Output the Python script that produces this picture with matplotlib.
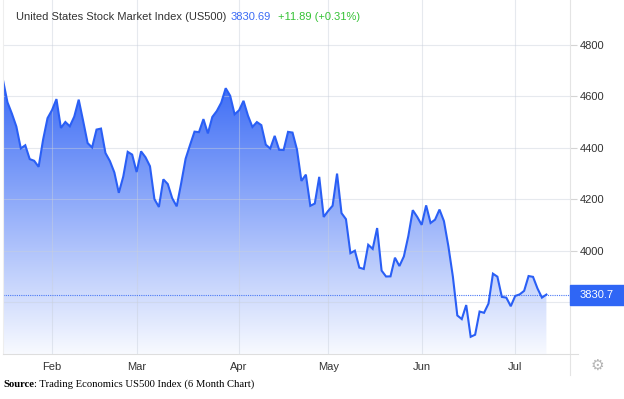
import numpy as np
import pandas as pd
import matplotlib
matplotlib.use("Agg")
import matplotlib.pyplot as plt
from matplotlib.colors import LinearSegmentedColormap
from matplotlib.patches import Rectangle
from matplotlib.lines import Line2D

# US500 daily closes, 6 month window (last value is intraday)
holidays = ["2022-01-17", "2022-02-21", "2022-04-15", "2022-05-30", "2022-06-20", "2022-07-04"]
jan = [4662.85, 4577.11, 4532.76, 4482.73, 4397.94, 4410.13, 4356.45, 4349.93, 4326.51, 4431.85, 4515.55]
feb = [4546.54, 4589.38, 4477.44, 4500.53, 4483.87, 4521.54, 4587.18, 4504.08, 4418.64, 4401.67,
       4471.07, 4475.01, 4380.26, 4348.87, 4304.76, 4225.50, 4288.70, 4384.65, 4373.94]
mar = [4306.26, 4386.54, 4363.49, 4328.87, 4201.09, 4170.70, 4277.88, 4259.52, 4204.31, 4173.11,
       4262.45, 4357.86, 4411.67, 4463.12, 4461.18, 4511.61, 4456.24, 4520.16, 4543.06, 4575.52,
       4631.60, 4602.45, 4530.41]
apr = [4545.86, 4582.64, 4525.12, 4481.15, 4500.21, 4488.28, 4412.53, 4397.45, 4446.59, 4392.59,
       4391.69, 4462.21, 4459.45, 4393.66, 4271.78, 4296.12, 4175.20, 4183.96, 4287.50, 4131.93]
may = [4155.38, 4175.48, 4300.17, 4146.87, 4123.34, 3991.24, 4001.05, 3935.18, 3930.08, 4023.89,
       4008.01, 4088.85, 3923.68, 3900.79, 3901.36, 3973.75, 3941.48, 3978.73, 4057.84, 4158.24,
       4132.15]
jun = [4101.23, 4176.82, 4108.54, 4121.43, 4160.68, 4115.77, 4017.82, 3900.86, 3749.63, 3735.48,
       3789.99, 3666.77, 3674.84, 3764.79, 3759.89, 3795.73, 3911.74, 3900.11, 3821.55, 3818.83,
       3785.38]
jul = [3825.33, 3831.39, 3845.08, 3902.62, 3899.38, 3854.43, 3818.80, 3830.69]
closes = jan + feb + mar + apr + may + jun + jul

last_price = 3830.69
change = 11.89
change_pct = 0.31
y_ticks = [3800, 4000, 4200, 4400, 4600, 4800]
title = "United States Stock Market Index (US500)"
source = ": Trading Economics US500 Index (6 Month Chart)"

dates = pd.bdate_range("2022-01-14", "2022-07-13")
dates = dates[~dates.isin(pd.to_datetime(holidays))]
n = len(closes)
x = np.arange(n)

# gridline / label at the first trading day of each month
month_idx = [i for i in range(1, n) if dates[i].month != dates[i - 1].month]
month_lbl = [dates[i].strftime("%b") for i in month_idx]

W, H = 624, 399
fig = plt.figure(figsize=(W / 100, H / 100), dpi=100)
ax = fig.add_axes([3 / W, 1 - 354 / H, 567 / W, 354 / H])

# vertical gradient, clipped to the area under the line
grad = np.linspace(0, 1, 256).reshape(-1, 1)
cmap = LinearSegmentedColormap.from_list("fade", ["#f8faff", "#3b6bf5"])
im = ax.imshow(grad, cmap=cmap, aspect="auto", origin="lower",
               extent=[0, n - 1, 3600, max(closes)], zorder=1)
poly = ax.fill_between(x, closes, 3600, color="none", lw=0)
im.set_clip_path(poly.get_paths()[0], transform=ax.transData)

ax.plot(x, closes, color="#2a5ff5", lw=1.5, zorder=3, solid_joinstyle="miter")
ax.axhline(last_price, color="#4a78f5", lw=0.8, ls=(0, (1, 1)), zorder=2.8)

ax.set_xlim(0, 127.3)
ax.set_ylim(3600, 4974)
ax.set_yticks(y_ticks)
ax.set_xticks(month_idx, month_lbl)
ax.set_axisbelow(False)
ax.grid(color="#c9d0db", lw=0.8, alpha=0.45)
for s in ax.spines.values():
    s.set_visible(False)

ax.yaxis.tick_right()
ax.tick_params(axis="y", length=5, width=0.8, color="#d4d4d4", pad=2, labelsize=8, labelcolor="#333333")
ax.tick_params(axis="x", length=0, pad=6, labelsize=8, labelcolor="#333333")
for lab in ax.get_xticklabels() + ax.get_yticklabels():
    lab.set_family("Liberation Sans")

# frame lines that run past the plot area
fig.add_artist(Line2D([570 / W, 570 / W], [1, 1 - 375 / H], transform=fig.transFigure, color="#e4e4e4", lw=0.8))
fig.add_artist(Line2D([3 / W, 3 / W], [1, 1 - 354 / H], transform=fig.transFigure, color="#eeeeee", lw=0.8))
fig.add_artist(Line2D([3 / W, 578 / W], [1 - 354 / H, 1 - 354 / H], transform=fig.transFigure, color="#dedede", lw=0.8))

renderer = fig.canvas.get_renderer()


def put_text(px, py, s, **kw):
    t = fig.text(px / W, 1 - py / H, s, **kw)
    return t.get_window_extent(renderer).x1


# header line
hdr = dict(family="Liberation Sans", fontsize=8, va="baseline")
xe = put_text(16, 20, title, color="#333333", **hdr)
xe = put_text(xe + 4, 20, f"{last_price:.2f}", color="#3b6bf5", **hdr)
put_text(xe + 7, 20, f"+{change:.2f} (+{change_pct:.2f}%)", color="#35c235", **hdr)

# current value badge on the price axis
fig.add_artist(Rectangle((570 / W, 1 - 305 / H), 54 / W, 20 / H, transform=fig.transFigure,
                         color="#2f66f5", zorder=5))
fig.text(597 / W, 1 - 295 / H, f"{last_price:.1f}", color="white", fontsize=8,
         family="Liberation Sans", ha="center", va="center", zorder=6)

fig.text(597 / W, 1 - 365 / H, "\u2699", fontsize=11, color="#b5b5b5", ha="center", va="center",
         family="DejaVu Sans")

# source line under the chart
src = dict(family="Liberation Serif", fontsize=7.7, va="baseline", color="black")
xe = put_text(3, 387, "Source", weight="bold", **src)
put_text(xe, 387, source, **src)

fig.savefig("out.png", dpi=100)
